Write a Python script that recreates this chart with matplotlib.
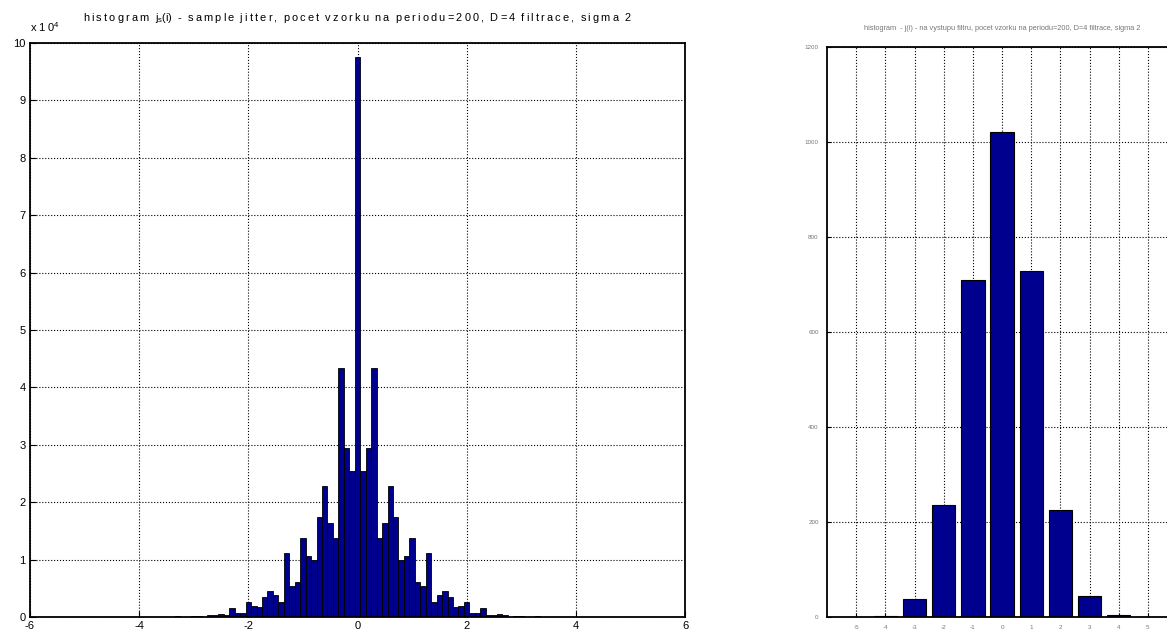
import matplotlib.pyplot as plt
import numpy as np

# ---------- data: left histogram (bins of 0.1, counts) ----------
# left side: -3.9 .. -0.1
left_counts = [60, 60, 60, 60, 60, 60, 230, 60, 60, 230,
               230, 60, 290, 400, 580, 400, 1500, 760, 760,
               2650, 2000, 1750, 3500, 4600, 3850, 2700, 11100, 5400, 6100,
               13800, 10700, 9900, 17400, 22800, 16300, 13700, 43400, 29400, 25500]
# right side: 0.1 .. 4.0
right_counts = [25500, 29400, 43400, 13700, 16300, 22800, 17400, 9900, 10700, 13800,
                6100, 5400, 11100, 2700, 3850, 4600, 3500, 1750, 2000, 2650,
                760, 760, 1500, 400, 400, 580, 400, 60, 230, 230,
                60, 60, 230, 60, 60, 60, 60, 60, 60, 60]
center_count = 97500

# ---------- data: right histogram (integer bins) ----------
filt_bins = [-5, -4, -3, -2, -1, 0, 1, 2, 3, 4, 5]
filt_counts = [0, 3, 38, 236, 709, 1022, 728, 226, 45, 5, 0]

plt.rcParams['font.family'] = ['Liberation Sans', 'DejaVu Sans']
plt.rcParams['axes.unicode_minus'] = False
plt.rcParams['mathtext.fontset'] = 'custom'
plt.rcParams['mathtext.rm'] = 'Liberation Sans'
plt.rcParams['mathtext.it'] = 'Liberation Sans'
navy = '#00008f'


def spaced(s):
    # letter-spaced look of the old MATLAB title
    return '  '.join('\u2009'.join(w) for w in s.split(' '))


fig = plt.figure(figsize=(11.67, 6.3), dpi=100)

# ---------- left chart ----------
ax1 = fig.add_axes([0.0257, 0.0206, 0.5613, 0.9111])
counts = np.array(left_counts + [center_count] + right_counts) / 1e4
n_left = len(left_counts)
centers = (np.arange(len(counts)) - n_left) * 0.1
ax1.bar(centers, counts, width=0.1, color=navy, edgecolor='black', linewidth=0.6)
ax1.set_xlim(-6, 6)
ax1.set_ylim(0, 10)
ax1.set_xticks(np.arange(-6, 7, 2))
ax1.set_yticks(np.arange(0, 11, 1))
ax1.grid(True, linestyle=':', color='black', linewidth=0.8)
ax1.set_axisbelow(True)
ax1.tick_params(direction='in', labelsize=8, length=4, pad=3)
for s in ax1.spines.values():
    s.set_linewidth(1.3)
title1 = (spaced('histogram') + '  j$_s$(i)  -  ' +
          spaced('sample jitter, pocet vzorku na periodu=200, D=4 filtrace, sigma 2'))
ax1.set_title(title1, fontsize=7.9, pad=16)
ax1.text(0.0, 1.015, 'x 1\u20090$^4$', transform=ax1.transAxes, fontsize=8, va='bottom')

# ---------- right chart ----------
ax2 = fig.add_axes([0.7087, 0.0206, 0.2999, 0.9048])
ax2.bar(filt_bins, filt_counts, width=0.8, color=navy, edgecolor='black', linewidth=0.8)
ax2.set_xlim(-6, 6)
ax2.set_ylim(0, 1200)
ax2.set_xticks(filt_bins)
ax2.set_yticks(np.arange(0, 1201, 200))
ax2.grid(True, linestyle=':', color='black', linewidth=0.8)
ax2.set_axisbelow(True)
ax2.tick_params(direction='in', labelsize=4.5, labelcolor='#777777', length=3, pad=6)
for s in ax2.spines.values():
    s.set_linewidth(1.3)
ax2.set_title('histogram  - j(i) - na vystupu filtru, pocet vzorku na periodu=200, D=4 filtrace, sigma 2',
              fontsize=5.3, color='#777777', pad=12)

fig.savefig('out.png', dpi=100)
